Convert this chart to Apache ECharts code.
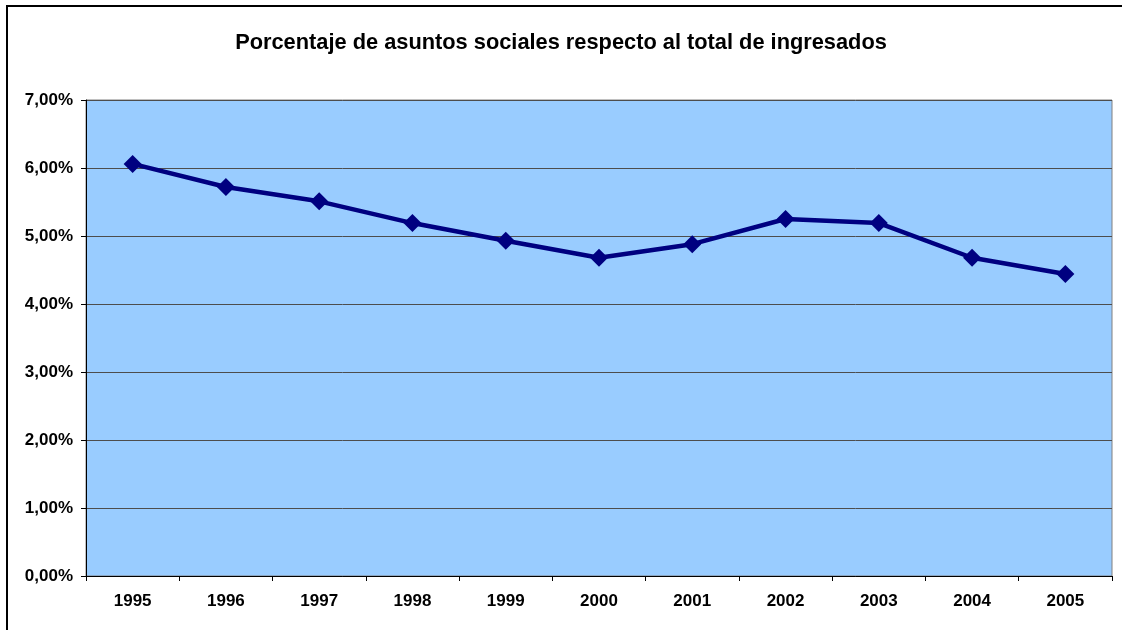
<!DOCTYPE html>
<html>
<head>
<meta charset="utf-8">
<script src="https://cdn.jsdelivr.net/npm/echarts@6/dist/echarts.min.js"></script>
<style>
  html, body { margin: 0; padding: 0; background: #fff; }
  #chart { width: 1122px; height: 630px; }
</style>
</head>
<body>
<div id="chart"></div>
<script>
// data
var years = ['1995', '1996', '1997', '1998', '1999', '2000', '2001', '2002', '2003', '2004', '2005']
var porcentaje = [6.06, 5.72, 5.51, 5.19, 4.93, 4.68, 4.88, 5.25, 5.19, 4.68, 4.44]
var titulo = 'Porcentaje de asuntos sociales respecto al total de ingresados'

var chart = echarts.init(document.getElementById('chart'))

chart.setOption({
  animation: false,
  textStyle: { fontFamily: 'Liberation Sans, Arial, sans-serif' },
  title: {
    text: titulo,
    left: 'center',
    top: 27,
    textStyle: { fontSize: 21.8, fontWeight: 'bold', color: '#000' }
  },
  graphic: [{
    type: 'rect',
    shape: { x: 7, y: 6, width: 1200, height: 700 },
    style: { fill: 'none', stroke: '#000', lineWidth: 2 },
    silent: true
  }],
  grid: {
    left: 86,
    right: 10,
    top: 100,
    bottom: 54,
    show: true,
    backgroundColor: '#99CCFF',
    borderColor: '#808080',
    borderWidth: 1
  },
  xAxis: {
    type: 'category',
    data: years,
    boundaryGap: true,
    axisLine: { lineStyle: { color: '#000', width: 1 } },
    axisTick: { show: true, length: 5, inside: false, lineStyle: { color: '#000' } },
    axisLabel: { color: '#000', fontSize: 17, fontWeight: 'bold', margin: 17 }
  },
  yAxis: {
    type: 'value',
    min: 0,
    max: 7,
    interval: 1,
    axisLine: { show: true, lineStyle: { color: '#000', width: 1 } },
    axisTick: { show: true, length: 5, lineStyle: { color: '#000' } },
    axisLabel: {
      color: '#000',
      fontSize: 17,
      fontWeight: 'bold',
      margin: 13,
      formatter: function (v) { return v.toFixed(2).replace('.', ',') + '%' }
    },
    splitLine: { lineStyle: { color: '#4d4d4d', width: 1 } }
  },
  series: [{
    type: 'line',
    data: porcentaje,
    symbol: 'diamond',
    symbolSize: 18,
    lineStyle: { color: '#000080', width: 4.5 },
    itemStyle: { color: '#000080' }
  }]
})
</script>
</body>
</html>
